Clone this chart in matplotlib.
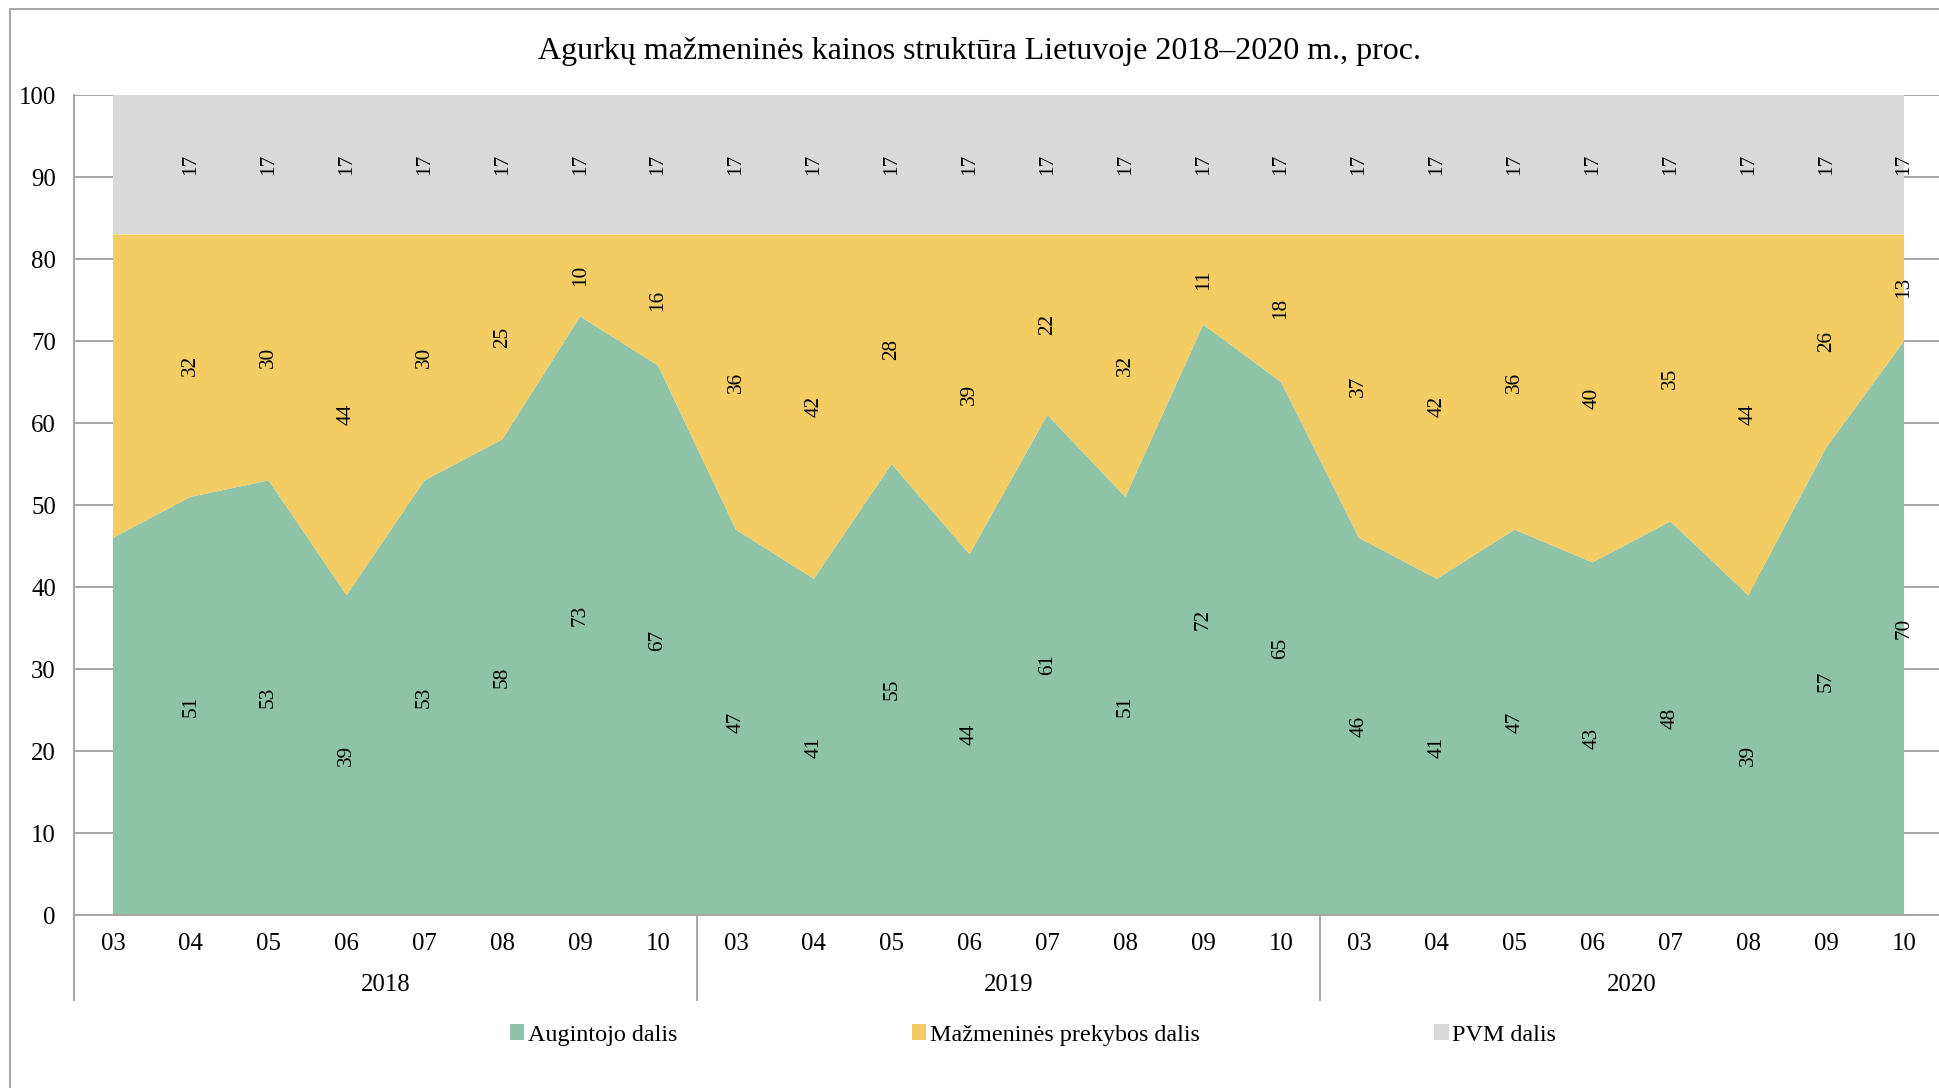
import numpy as np
import matplotlib
matplotlib.use("Agg")
import matplotlib.pyplot as plt
from matplotlib.patches import Patch
from matplotlib.lines import Line2D
import matplotlib.transforms as mtransforms

plt.rcParams['font.family'] = ['Liberation Serif', 'DejaVu Serif']

# months shown for each season, grouped by year
years = ['2018', '2019', '2020']
months = ['03', '04', '05', '06', '07', '08', '09', '10']

# price structure, percent
augintojo = [46, 51, 53, 39, 53, 58, 73, 67,
             47, 41, 55, 44, 61, 51, 72, 65,
             46, 41, 47, 43, 48, 39, 57, 70]
prekybos = [37, 32, 30, 44, 30, 25, 10, 16,
            36, 42, 28, 39, 22, 32, 11, 18,
            37, 42, 36, 40, 35, 44, 26, 13]
pvm = [17] * 24
# first month of 2018 has no value labels
labelled = [False] + [True] * 23

series_names = ['Augintojo dalis', 'Mažmeninės prekybos dalis', 'PVM dalis']
colors = ['#8FC3A8', '#F4CC64', '#D9D9D9']
grid_c = '#A6A6A6'

W, H = 1939, 1088
fig = plt.figure(figsize=(W / 100, H / 100), dpi=100)

# plot area in pixels
x0, x1, ytop, ybot = 74, 1943, 95, 915
ax = fig.add_axes([x0 / W, 1 - ybot / H, (x1 - x0) / W, (ybot - ytop) / H])

x = np.arange(len(augintojo))
ax.stackplot(x, augintojo, prekybos, pvm, colors=colors, linewidth=0, zorder=2)

ax.set_xlim(-0.5, len(x) - 0.5)
ax.set_ylim(0, 100)
ax.set_yticks(np.arange(0, 101, 10))
ax.yaxis.grid(True, color=grid_c, linewidth=1.4, zorder=1)
ax.set_axisbelow(True)
for s in ['top', 'right']:
    ax.spines[s].set_visible(False)
for s in ['left', 'bottom']:
    ax.spines[s].set_color(grid_c)
    ax.spines[s].set_linewidth(1.4)
ax.tick_params(axis='y', length=0, pad=13, labelsize=17.8)

ax.set_xticks(x)
ax.set_xticklabels(months * len(years))
ax.tick_params(axis='x', length=0, pad=13, labelsize=17.8)

# year group labels and separators under the axis
blend = mtransforms.blended_transform_factory(ax.transData, ax.transAxes)
n = len(months)
for k, yr in enumerate(years):
    ax.text(k * n + (n - 1) / 2, -0.0854, yr, transform=blend,
            ha='center', va='center', fontsize=17.8)
for k in range(len(years) + 1):
    ax.add_line(Line2D([k * n - 0.5] * 2, [0, -0.1037], transform=blend,
                       color=grid_c, linewidth=1.4, clip_on=False))

# value labels in the middle of each band
for i in x:
    if not labelled[i]:
        continue
    g, p, v = augintojo[i], prekybos[i], pvm[i]
    for val, mid in [(g, g / 2), (p, g + p / 2), (v, g + p + v / 2)]:
        ax.text(i, mid, str(val), rotation=90, ha='center', va='center',
                fontsize=15.3, zorder=5)

fig.text(980 / W, 1 - 51 / H,
         'Agurkų mažmeninės kainos struktūra Lietuvoje 2018–2020 m., proc.',
         ha='center', va='center', fontsize=23)

handles = [Patch(facecolor=c, edgecolor='none') for c in colors]
fig.legend(handles, series_names, loc='center', ncol=3, frameon=False,
           bbox_to_anchor=(1033 / W, 1 - 1035 / H), fontsize=17.4,
           handlelength=0.6, handleheight=0.6, handletextpad=0.15,
           columnspacing=9.7)

# chart frame
fig.add_artist(Line2D([10 / W, 10 / W], [0, 1 - 9 / H], transform=fig.transFigure,
                      color=grid_c, linewidth=1.4))
fig.add_artist(Line2D([10 / W, 1], [1 - 9 / H, 1 - 9 / H], transform=fig.transFigure,
                      color=grid_c, linewidth=1.4))

fig.savefig('out.png', dpi=100)
